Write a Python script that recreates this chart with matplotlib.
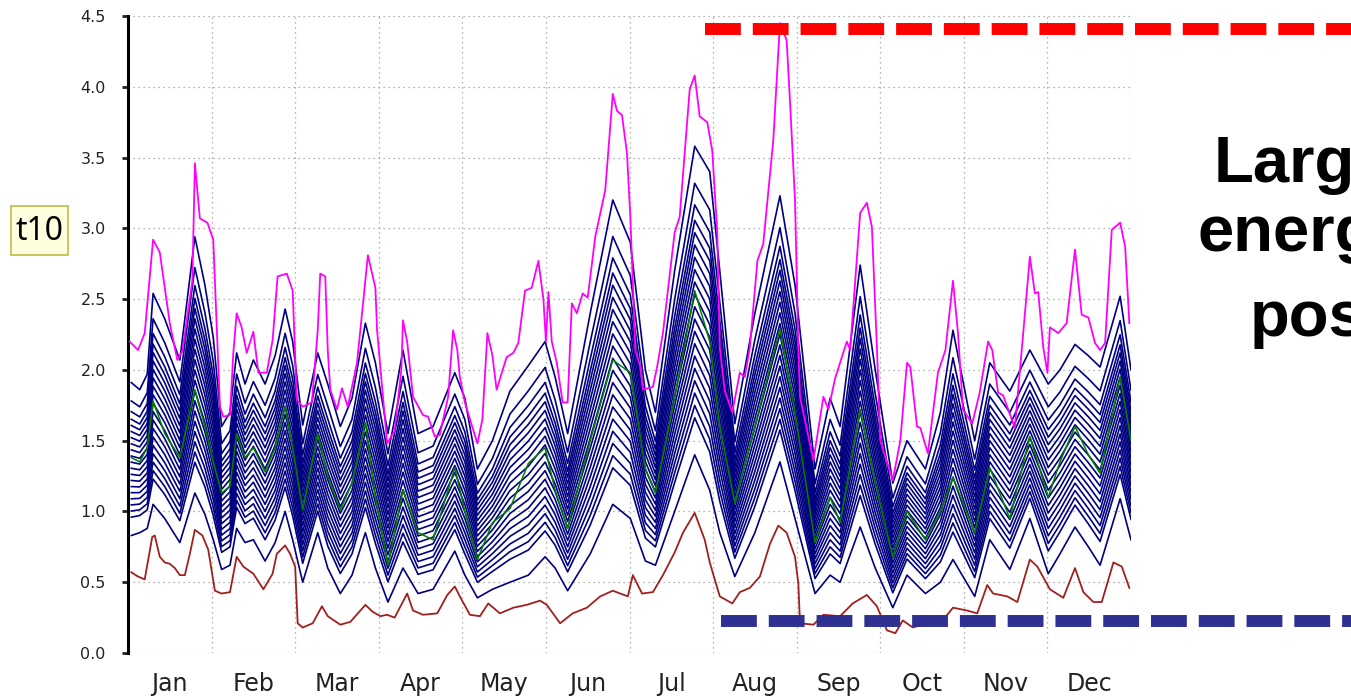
import numpy as np
import matplotlib
matplotlib.use("Agg")
import matplotlib.pyplot as plt
from matplotlib.lines import Line2D
from matplotlib.patches import Rectangle

W, H = 1351, 698

# time axis is in months (0 = 1 Jan, 12 = 31 Dec)
month_names = ["Jan", "Feb", "Mar", "Apr", "May", "Jun",
               "Jul", "Aug", "Sep", "Oct", "Nov", "Dec"]

# ensemble envelope (navy family) and median
ens_t = [0.04, 0.14, 0.23, 0.30, 0.44, 0.62, 0.80, 0.92, 1.02, 1.12, 1.22, 1.30,
         1.40, 1.50, 1.64, 1.76, 1.88, 1.97, 2.09, 2.27, 2.39, 2.54, 2.68, 2.84,
         2.96, 3.11, 3.29, 3.47, 3.65, 3.91, 4.03, 4.18, 4.36, 4.57, 4.79, 4.99,
         5.11, 5.26, 5.53, 5.80, 6.01, 6.19, 6.31, 6.54, 6.78, 6.96, 7.08, 7.26,
         7.50, 7.80, 7.98, 8.22, 8.40, 8.52, 8.76, 8.94, 9.15, 9.32, 9.54, 9.72,
         9.87, 10.13, 10.31, 10.55, 10.79, 11.01, 11.15, 11.33, 11.49, 11.63,
         11.87, 12.0]
ens_high = [1.91, 1.86, 1.97, 2.54, 2.36, 2.07, 2.94, 2.60, 2.23, 1.60, 1.70, 2.12,
            1.90, 2.07, 1.90, 2.10, 2.43, 2.20, 1.61, 2.12, 1.90, 1.60, 1.80, 2.33,
            2.05, 1.55, 2.14, 1.55, 1.60, 1.98, 1.80, 1.30, 1.50, 1.85, 2.03, 2.20,
            1.95, 1.55, 2.40, 3.20, 2.90, 2.00, 1.70, 2.70, 3.58, 3.40, 2.70, 1.62,
            2.40, 3.23, 2.60, 1.30, 1.80, 1.60, 2.74, 2.00, 1.20, 1.50, 1.30, 1.70,
            2.28, 1.50, 2.05, 1.85, 2.14, 1.90, 2.00, 2.18, 2.10, 2.02, 2.52, 2.00]
ens_low = [0.83, 0.85, 0.88, 1.05, 0.95, 0.78, 1.13, 0.98, 0.80, 0.59, 0.62, 0.88,
           0.78, 0.80, 0.65, 0.78, 1.00, 0.80, 0.50, 0.85, 0.60, 0.42, 0.55, 0.85,
           0.60, 0.36, 0.60, 0.42, 0.45, 0.72, 0.55, 0.39, 0.45, 0.50, 0.55, 0.68,
           0.60, 0.44, 0.70, 1.05, 0.95, 0.65, 0.62, 1.00, 1.40, 1.15, 0.85, 0.54,
           0.85, 1.35, 0.95, 0.42, 0.55, 0.50, 0.89, 0.60, 0.32, 0.55, 0.42, 0.50,
           0.66, 0.40, 0.80, 0.59, 0.95, 0.56, 0.70, 0.89, 0.75, 0.62, 1.09, 0.80]
ens_median = [1.38, 1.35, 1.45, 1.78, 1.55, 1.38, 1.86, 1.60, 1.35, 1.13, 1.18, 1.55,
              1.38, 1.45, 1.28, 1.45, 1.74, 1.45, 1.01, 1.55, 1.25, 1.01, 1.20, 1.63,
              1.10, 0.62, 1.15, 0.85, 0.80, 1.31, 1.00, 0.66, 0.92, 1.02, 1.34, 1.45,
              1.15, 0.88, 1.50, 2.07, 1.98, 1.30, 1.13, 1.80, 2.56, 2.20, 1.60, 1.06,
              1.60, 2.29, 1.70, 0.78, 1.10, 0.92, 1.72, 1.20, 0.68, 1.00, 0.80, 1.00,
              1.24, 0.85, 1.31, 0.95, 1.53, 1.10, 1.35, 1.60, 1.40, 1.27, 1.95, 1.50]
# relative position of each member line within the envelope
member_levels = [0.0, 0.12, 0.16, 0.20, 0.24, 0.28, 0.32, 0.36, 0.40, 0.44, 0.48,
                 0.52, 0.56, 0.60, 0.64, 0.68, 0.72, 0.76, 0.81, 0.88, 1.0]

# maximum
max_t = [0.02, 0.12, 0.20, 0.30, 0.38, 0.50, 0.59, 0.65, 0.77, 0.80, 0.86, 0.95,
         1.02, 1.10, 1.14, 1.22, 1.26, 1.30, 1.36, 1.42, 1.50, 1.56, 1.66, 1.73,
         1.79, 1.90, 1.97, 2.02, 2.09, 2.20, 2.27, 2.30, 2.36, 2.39, 2.42, 2.50,
         2.56, 2.63, 2.74, 2.87, 2.96, 2.98, 3.10, 3.19, 3.27, 3.29, 3.34, 3.41,
         3.53, 3.59, 3.67, 3.73, 3.83, 3.89, 3.94, 3.97, 4.03, 4.18, 4.24, 4.30,
         4.36, 4.41, 4.53, 4.61, 4.67, 4.75, 4.83, 4.91, 4.97, 5.00, 5.03, 5.07,
         5.13, 5.20, 5.26, 5.31, 5.37, 5.44, 5.50, 5.59, 5.71, 5.80, 5.85, 5.91,
         5.97, 6.01, 6.07, 6.13, 6.16, 6.28, 6.33, 6.40, 6.54, 6.60, 6.72, 6.78,
         6.84, 6.93, 6.99, 7.05, 7.08, 7.14, 7.23, 7.32, 7.38, 7.44, 7.53, 7.60,
         7.72, 7.80, 7.88, 7.92, 7.98, 8.02, 8.04, 8.20, 8.32, 8.38, 8.46, 8.60,
         8.64, 8.76, 8.84, 8.90, 8.96, 9.00, 9.15, 9.24, 9.32, 9.36, 9.44, 9.48,
         9.57, 9.69, 9.78, 9.87, 9.93, 9.99, 10.10, 10.19, 10.29, 10.34, 10.41,
         10.47, 10.61, 10.70, 10.79, 10.85, 10.89, 10.95, 11.00, 11.03, 11.13,
         11.23, 11.33, 11.41, 11.49, 11.57, 11.63, 11.69, 11.77, 11.87, 11.93, 11.98]
max_v = [2.20, 2.14, 2.26, 2.92, 2.83, 2.33, 2.07, 2.13, 2.63, 3.46, 3.07, 3.04,
         2.92, 1.74, 1.67, 1.68, 2.12, 2.40, 2.30, 2.12, 2.27, 1.98, 1.98, 2.21,
         2.66, 2.68, 2.56, 1.79, 1.74, 1.77, 2.28, 2.68, 2.66, 2.14, 1.86, 1.72,
         1.87, 1.74, 2.05, 2.81, 2.58, 2.28, 1.48, 1.57, 2.00, 2.35, 2.20, 1.81,
         1.68, 1.67, 1.53, 1.54, 1.81, 2.28, 2.14, 1.95, 1.77, 1.48, 1.65, 2.26,
         2.10, 1.86, 2.09, 2.12, 2.19, 2.56, 2.58, 2.77, 2.50, 2.20, 2.55, 2.20,
         2.05, 1.77, 1.77, 2.47, 2.40, 2.54, 2.51, 2.94, 3.27, 3.95, 3.83, 3.80,
         3.53, 3.08, 2.14, 2.02, 1.86, 1.88, 2.02, 2.26, 2.97, 3.08, 3.98, 4.08,
         3.79, 3.75, 3.55, 2.97, 2.16, 1.85, 1.70, 1.98, 1.95, 2.16, 2.77, 2.89,
         3.62, 4.45, 4.33, 3.90, 3.20, 2.16, 1.81, 1.36, 1.81, 1.72, 1.94, 2.20,
         2.14, 3.11, 3.18, 3.01, 2.16, 1.50, 1.22, 1.50, 2.05, 2.02, 1.60, 1.59,
         1.41, 1.98, 2.14, 2.63, 2.26, 1.72, 1.62, 1.84, 2.20, 2.14, 1.84,
         1.82, 1.59, 2.19, 2.80, 2.54, 2.55, 2.16, 1.98, 2.30, 2.26,
         2.33, 2.85, 2.39, 2.37, 2.19, 2.14, 2.19, 2.99, 3.04, 2.87, 2.33]

# minimum
min_t = [0.04, 0.12, 0.20, 0.29, 0.32, 0.38, 0.44, 0.50, 0.56, 0.62, 0.68, 0.74,
         0.80, 0.89, 0.96, 1.04, 1.12, 1.22, 1.30, 1.38, 1.50, 1.62, 1.73, 1.78,
         1.88, 1.94, 2.00, 2.03, 2.09, 2.21, 2.32, 2.39, 2.54, 2.66, 2.84, 2.93,
         3.02, 3.10, 3.19, 3.34, 3.41, 3.53, 3.70, 3.82, 3.91, 3.97, 4.09, 4.21,
         4.31, 4.45, 4.61, 4.77, 4.93, 5.01, 5.17, 5.32, 5.49, 5.65, 5.80, 5.98,
         6.04, 6.15, 6.28, 6.40, 6.54, 6.64, 6.78, 6.90, 6.96, 7.08, 7.23, 7.32,
         7.44, 7.56, 7.68, 7.78, 7.88, 7.98, 8.02, 8.04, 8.20, 8.32, 8.52, 8.67,
         8.84, 8.96, 9.08, 9.18, 9.27, 9.39, 9.56, 9.72, 9.87, 10.04, 10.16, 10.28,
         10.35, 10.52, 10.64, 10.79, 10.88, 11.03, 11.19, 11.33, 11.43, 11.55,
         11.65, 11.79, 11.89, 11.98]
min_v = [0.57, 0.54, 0.52, 0.82, 0.83, 0.68, 0.64, 0.63, 0.60, 0.55, 0.55, 0.70,
         0.87, 0.83, 0.73, 0.44, 0.42, 0.43, 0.68, 0.61, 0.56, 0.45, 0.56, 0.70,
         0.76, 0.70, 0.61, 0.21, 0.18, 0.21, 0.33, 0.26, 0.20, 0.22, 0.34, 0.29,
         0.26, 0.27, 0.25, 0.42, 0.30, 0.27, 0.28, 0.41, 0.47, 0.40, 0.27, 0.26,
         0.35, 0.28, 0.32, 0.34, 0.37, 0.34, 0.21, 0.28, 0.32, 0.40, 0.44, 0.40,
         0.55, 0.42, 0.43, 0.55, 0.71, 0.85, 0.99, 0.80, 0.64, 0.40, 0.35, 0.43,
         0.46, 0.54, 0.77, 0.90, 0.85, 0.68, 0.49, 0.21, 0.20, 0.27, 0.26, 0.35,
         0.41, 0.33, 0.16, 0.14, 0.23, 0.18, 0.21, 0.21, 0.32, 0.30, 0.28, 0.48,
         0.42, 0.40, 0.36, 0.66, 0.61, 0.45, 0.39, 0.60, 0.43, 0.36,
         0.36, 0.64, 0.61, 0.46]

fig = plt.figure(figsize=(W / 100, H / 100), dpi=100)
ax = fig.add_axes([128 / W, 1 - 653 / H, 1003 / W, 637 / H])

t = np.array(ens_t)
lo = np.array(ens_low)
hi = np.array(ens_high)
for q in member_levels:
    ax.plot(t, lo + q * (hi - lo), color="#000080", lw=1.2, zorder=2)
ax.plot(ens_t, ens_median, color="#008000", lw=1.1, zorder=3)
ax.plot(max_t, max_v, color="#ff00ff", lw=1.3, zorder=4)
ax.plot(min_t, min_v, color="#a02020", lw=1.3, zorder=4)

ax.set_xlim(0, 12)
ax.set_ylim(0, 4.5)
ax.set_yticks(np.arange(0, 4.51, 0.5))
ax.set_yticklabels([f"{v:.1f}" for v in np.arange(0, 4.51, 0.5)])
ax.set_xticks(np.arange(0, 13))
ax.set_xticklabels([])
ax.set_xticks(np.arange(0.5, 12), minor=True)
ax.set_xticklabels(month_names, minor=True)

ax.grid(True, which="major", color="#9a9a9a", lw=0.9, linestyle=(0, (1, 3)))
for side in ["top", "right", "bottom"]:
    ax.spines[side].set_visible(False)
ax.spines["left"].set_linewidth(2.2)
ax.tick_params(axis="y", length=4, width=2, pad=12, labelsize=11.5, colors="#222222")
ax.tick_params(axis="x", which="both", length=0)
ax.tick_params(axis="x", which="minor", pad=14, labelsize=17, labelcolor="#222222")

# variable tag
fig.add_artist(Rectangle((11 / W, 1 - 255 / H), 57 / W, 49 / H, transform=fig.transFigure,
                         facecolor="#ffffdd", edgecolor="#bcbc48", lw=1.2))
fig.text(39.5 / W, 1 - 231 / H, "t10", ha="center", va="center",
         fontsize=23, family="Noto Sans")

# threshold markers
dash_style = dict(lw=8.6, dashes=(3, 1), solid_capstyle="butt",
                  dash_capstyle="butt", transform=fig.transFigure)
fig.add_artist(Line2D([705 / W, 1.05], [1 - 29 / H] * 2, color="#ff0000", **dash_style))
fig.add_artist(Line2D([721 / W, 1.05], [1 - 621 / H] * 2, color="#2e3191", **dash_style))

big = dict(fontsize=47, fontweight="bold", family="Liberation Sans",
           ha="left", va="baseline")
fig.text(1214 / W, 1 - 182 / H, "Larg", **big)
fig.text(1197 / W, 1 - 251 / H, "energ", **big)
fig.text(1250 / W, 1 - 336 / H, "pos", **big)

fig.savefig("out.png", dpi=100)
